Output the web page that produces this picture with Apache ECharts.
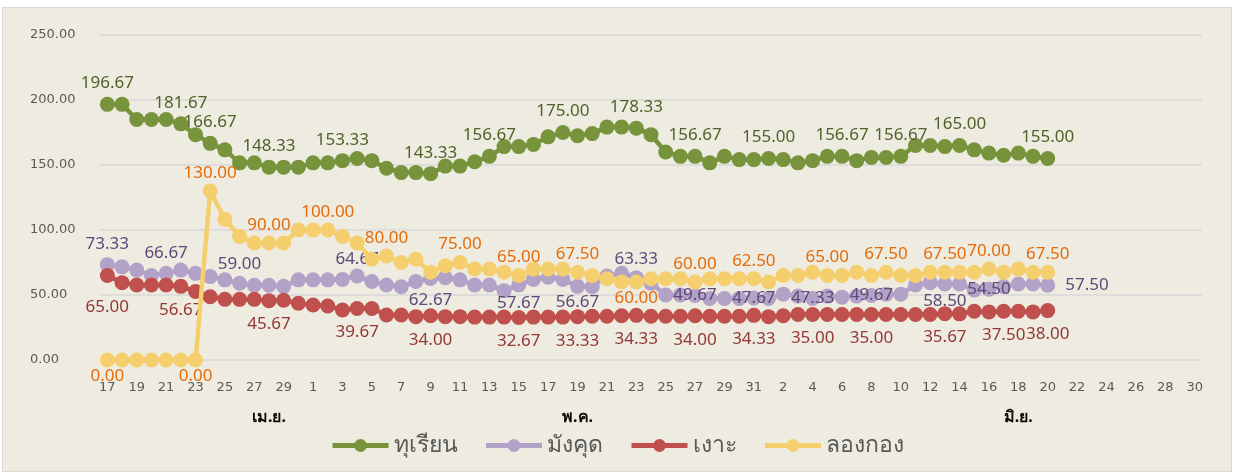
<!DOCTYPE html>
<html><head><meta charset="utf-8">
<script src="https://cdn.jsdelivr.net/npm/echarts@6/dist/echarts.min.js"></script>
<style>
html,body{margin:0;padding:0;background:#ffffff;}
#frame{position:absolute;left:2px;top:7px;width:1228px;height:463px;background:#EEECE1;border:1px solid #D9D9D9;}
#chart{width:1228px;height:463px;}
</style></head><body>
<div id="frame"><div id="chart"></div></div>
<script>
// Day-of-month categories: 17 Apr .. 30 Jun
const categories = [
 '17','18','19','20','21','22','23','24','25','26','27','28','29','30',
 '1','2','3','4','5','6','7','8','9','10','11','12','13','14','15','16','17','18','19','20','21','22','23','24','25','26','27','28','29','30','31',
 '1','2','3','4','5','6','7','8','9','10','11','12','13','14','15','16','17','18','19','20','21','22','23','24','25','26','27','28','29','30'
];
// Month group labels (placed under a category of each month)
const monthNames = ['เม.ย.', 'พ.ค.', 'มิ.ย.'];
const monthLabelIndex = [11, 32, 62];

const seriesNames = ['ทุเรียน', 'มังคุด', 'เงาะ', 'ลองกอง'];

const durian = [196.67,196.67,185.00,185.00,185.00,181.67,173.33,166.67,161.67,151.67,151.67,148.33,148.33,148.33,
 151.67,151.67,153.33,155.00,153.33,147.50,144.17,144.17,143.33,149.17,149.17,152.50,156.67,164.17,164.17,165.83,
 171.67,175.00,172.50,174.17,179.17,179.17,178.33,173.33,160.00,156.67,156.67,151.67,156.67,154.17,154.17,155.00,
 154.17,151.67,153.33,156.67,156.67,153.33,155.83,155.83,156.67,165.00,165.00,164.17,165.00,161.67,159.17,157.50,
 159.17,156.67,155.00];
const mangosteen = [73.33,71.67,69.17,65.00,66.67,69.17,66.67,64.17,61.67,59.00,57.50,57.50,56.67,61.67,
 61.67,61.67,62.00,64.67,60.33,57.67,56.33,60.33,62.67,63.33,61.67,57.67,57.67,53.33,57.67,62.00,
 63.67,62.00,56.67,56.33,64.67,66.67,63.33,59.00,50.00,50.00,49.67,47.33,47.33,47.33,47.67,47.33,
 50.67,49.17,47.33,49.17,48.33,49.17,49.67,50.67,50.67,57.67,59.50,58.50,58.50,53.83,54.50,56.50,
 58.50,58.50,57.50];
const rambutan = [65.00,59.50,57.67,57.67,57.67,56.67,52.67,48.67,46.67,46.67,46.67,45.67,46.00,43.67,
 42.33,41.50,38.50,39.67,39.67,34.67,34.67,33.33,34.00,33.33,33.33,33.00,33.00,33.00,32.67,33.00,
 33.00,33.00,33.33,33.67,33.67,34.00,34.33,33.67,33.67,33.67,34.00,33.67,33.67,33.67,34.33,33.33,
 34.00,35.00,35.00,35.00,35.00,35.00,35.00,35.00,35.00,35.00,35.00,35.67,35.50,37.50,37.00,37.50,
 37.50,37.00,38.00];
const longkong = [0,0,0,0,0,0,0,130.00,108.33,95.00,90.00,90.00,90.00,100.00,
 100.00,100.00,95.00,90.00,77.50,80.00,75.00,77.50,67.50,72.50,75.00,70.00,70.00,67.50,65.00,70.00,
 70.00,70.00,67.50,65.00,62.50,60.00,60.00,62.50,62.50,62.50,60.00,62.50,62.50,62.50,62.50,60.00,
 65.00,65.00,67.50,65.00,65.00,67.50,65.00,67.50,65.00,65.00,67.50,67.50,67.50,67.50,70.00,67.50,
 70.00,67.50,67.50];

// Which points carry a data label
const durianLabelIdx = [0,5,7,11,16,22,26,31,36,40,45,50,54,58,64];
const mangosteenLabelIdx = [0,4,9,17,22,28,32,36,40,44,48,52,57,60,64];
const rambutanLabelIdx = [0,5,11,17,22,28,32,36,40,44,48,52,57,61,64];
const longkongLabelIdx = [0,6,7,11,15,19,24,28,32,36,40,44,49,53,57,60,64];

const colors = ['#77933C', '#B3A2C7', '#C0504D', '#F5CF6E'];
const labelColors = ['#4F6228', '#5F497A', '#953735', '#E46C0A'];
const FONT = "'Noto Sans', 'DejaVu Sans', sans-serif";

function labelStyleFor(seriesIdx, i) {
  if (seriesIdx === 0) return {position: 'top', distance: 5};
  if (seriesIdx === 2) return {position: 'bottom', distance: i === 0 ? 16 : 8};
  if (seriesIdx === 3) {
    if (i <= 6) return {position: 'bottom', distance: 0};
    if (i === 36) return {position: 'bottom', distance: 0};
    return {position: 'top', distance: 2};
  }
  // mangosteen: mixed placements
  const m = {
    0: {position: 'top', distance: 5}, 4: {position: 'top', distance: 4}, 9: {position: 'top', distance: 3},
    17: {position: 'top', distance: 1, offset: [-12, 0]}, 36: {position: 'top', distance: 3},
    22: {position: 'bottom', distance: 6}, 28: {position: 'bottom', distance: 2}, 32: {position: 'bottom', distance: 0},
    57: {position: 'bottom', distance: 1},
    40: {position: 'inside', offset: [0, 7]}, 44: {position: 'inside', offset: [0, 2]},
    48: {position: 'inside', offset: [0, 2]}, 52: {position: 'inside', offset: [0, 4]},
    60: {position: 'inside', offset: [0, 10]},
    64: {position: 'right', distance: 10, offset: [0, 10]}
  };
  return m[i] || {position: 'top'};
}

function buildData(values, labelIdx, seriesIdx) {
  return values.map((v, i) => {
    if (labelIdx.indexOf(i) < 0) return v;
    return {value: v, label: Object.assign({show: true}, labelStyleFor(seriesIdx, i))};
  });
}

const allValues = [durian, mangosteen, rambutan, longkong];
const allLabelIdx = [durianLabelIdx, mangosteenLabelIdx, rambutanLabelIdx, longkongLabelIdx];

const chart = echarts.init(document.getElementById('chart'), null, {renderer: 'canvas'});
chart.setOption({
  backgroundColor: 'transparent',
  animation: false,
  textStyle: {fontFamily: FONT},
  grid: {left: 97, right: 29, top: 27, bottom: 111, containLabel: false},
  legend: {
    data: seriesNames.map(n => ({name: n})),
    top: 421, left: 'center',
    itemWidth: 56, itemHeight: 16, itemGap: 26,
    lineStyle: {width: 5},
    textStyle: {color: '#595959', fontSize: 23, fontFamily: FONT}
  },
  xAxis: [{
    type: 'category', data: categories, boundaryGap: true,
    axisLine: {show: false}, axisTick: {show: false},
    axisLabel: {interval: 1, margin: 21, color: '#595959', fontSize: 13, fontFamily: "'DejaVu Sans', sans-serif"}
  }, {
    type: 'category', data: categories, boundaryGap: true, position: 'bottom',
    axisLine: {show: false}, axisTick: {show: false}, splitLine: {show: false},
    axisLabel: {
      interval: 0, margin: 49, color: '#0D0D0D', fontSize: 16, fontWeight: 'bold',
      formatter: (v, i) => { const k = monthLabelIndex.indexOf(i); return k >= 0 ? monthNames[k] : ''; }
    }
  }],
  yAxis: {
    type: 'value', min: 0, max: 250, interval: 50,
    axisLine: {show: false}, axisTick: {show: false},
    splitLine: {lineStyle: {color: '#D9D9D9', width: 1.5}},
    axisLabel: {align: 'left', margin: 70, color: '#595959', fontSize: 13,
      fontFamily: "'DejaVu Sans', sans-serif", formatter: v => v.toFixed(2)}
  },
  series: seriesNames.map((name, s) => ({
    name: name, type: 'line', xAxisIndex: 0,
    data: buildData(allValues[s], allLabelIdx[s], s),
    symbol: 'circle', symbolSize: 15, showSymbol: true, showAllSymbol: true,
    itemStyle: {color: colors[s]},
    lineStyle: {color: colors[s], width: 4.5},
    label: {show: false, color: labelColors[s], fontSize: 17, fontFamily: FONT,
      formatter: p => Number(p.value).toFixed(2)},
    labelLayout: {hideOverlap: false},
    emphasis: {disabled: true},
    z: 2 + s
  }))
});
</script>
</body></html>
